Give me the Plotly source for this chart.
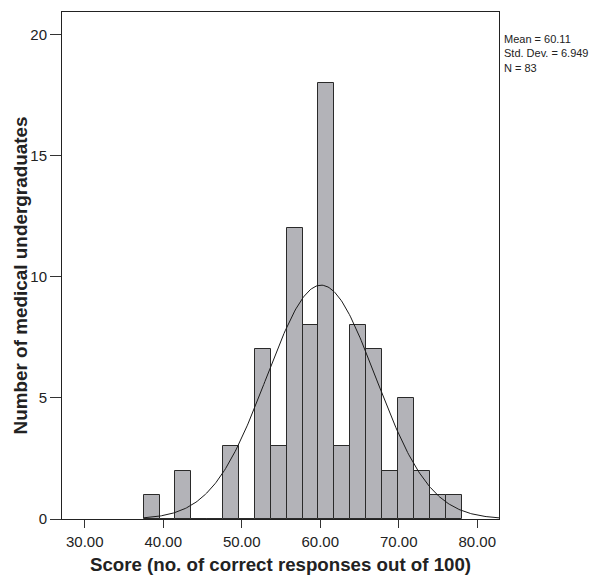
import numpy as np
import plotly.graph_objects as go

# Histogram data
bin_start = 37.5
bin_width = 2.025
counts = [1, 0, 2, 0, 0, 3, 0, 7, 3, 12, 8, 18, 3, 8, 7, 2, 5, 2, 1, 1]

# Fitted normal curve parameters (stated on the chart)
mean = 60.11
sd = 6.949
n = 83

x_ticks = [30, 40, 50, 60, 70, 80]
x_tick_labels = ["30.00", "40.00", "50.00", "60.00", "70.00", "80.00"]
y_ticks = [0, 5, 10, 15, 20]
stat_lines = [f"Mean = {mean}", f"Std. Dev. = {sd}", f"N = {n}"]
x_title = "Score (no. of correct responses out of 100)"
y_title = "Number of medical undergraduates"

centers = [bin_start + bin_width * (i + 0.5) for i in range(len(counts))]

xc = np.linspace(bin_start, 82.8, 300)
yc = n * bin_width / (sd * np.sqrt(2 * np.pi)) * np.exp(-0.5 * ((xc - mean) / sd) ** 2)

fig = go.Figure()
fig.add_trace(go.Bar(
    x=centers, y=counts, width=bin_width,
    marker=dict(color="#b3b3b8", line=dict(color="#2a2a2a", width=1)),
    showlegend=False, hoverinfo="x+y",
))
fig.add_trace(go.Scatter(
    x=xc, y=yc, mode="lines",
    line=dict(color="#1a1a1a", width=1),
    showlegend=False, hoverinfo="skip",
))

font = "Liberation Sans, Arial, Helvetica, sans-serif"
plot_left, plot_right = 62, 499
plot_top, plot_bottom = 12, 519
pw = plot_right - plot_left
ph = plot_bottom - plot_top

fig.update_layout(
    width=600, height=577,
    margin=dict(l=plot_left, r=600 - plot_right, t=plot_top, b=577 - plot_bottom,
                autoexpand=False),
    paper_bgcolor="white", plot_bgcolor="white",
    font=dict(family=font, color="#222222", size=15),
    bargap=0,
    xaxis=dict(
        range=[27.1, 82.77], tickmode="array", tickvals=x_ticks, ticktext=x_tick_labels,
        ticks="outside", ticklen=8, tickwidth=1, tickcolor="#333",
        ticklabelstandoff=1, automargin=False,
        showline=True, linecolor="#222", linewidth=1, mirror=True,
        showgrid=False, zeroline=False,
        tickfont=dict(size=15),
        title=dict(text=f"<b>{x_title}</b>", font=dict(size=18.7), standoff=8),
    ),
    yaxis=dict(
        range=[0, 20.92], tickmode="array", tickvals=y_ticks,
        ticks="outside", ticklen=11, tickwidth=1, tickcolor="#333",
        automargin=False,
        showline=True, linecolor="#222", linewidth=1, mirror=True,
        showgrid=False, zeroline=False,
        tickfont=dict(size=15),
    ),
    annotations=[
        dict(
            x=1.0, y=(plot_bottom - 53.5) / ph,
            xref="paper", yref="paper", xanchor="left", yanchor="middle",
            xshift=3, align="left", showarrow=False,
            text="<br>".join(stat_lines),
            font=dict(size=11, color="#222"),
        ),
        dict(
            x=(20 - plot_left) / pw, y=(plot_bottom - 275.5) / ph,
            xref="paper", yref="paper", xanchor="center", yanchor="middle",
            textangle=-90, showarrow=False,
            text=f"<b>{y_title}</b>",
            font=dict(size=18.9, color="#222"),
        ),
    ],
)

fig.write_html("out.html", config={"displayModeBar": False},
               post_script="document.body.style.margin='0';")
